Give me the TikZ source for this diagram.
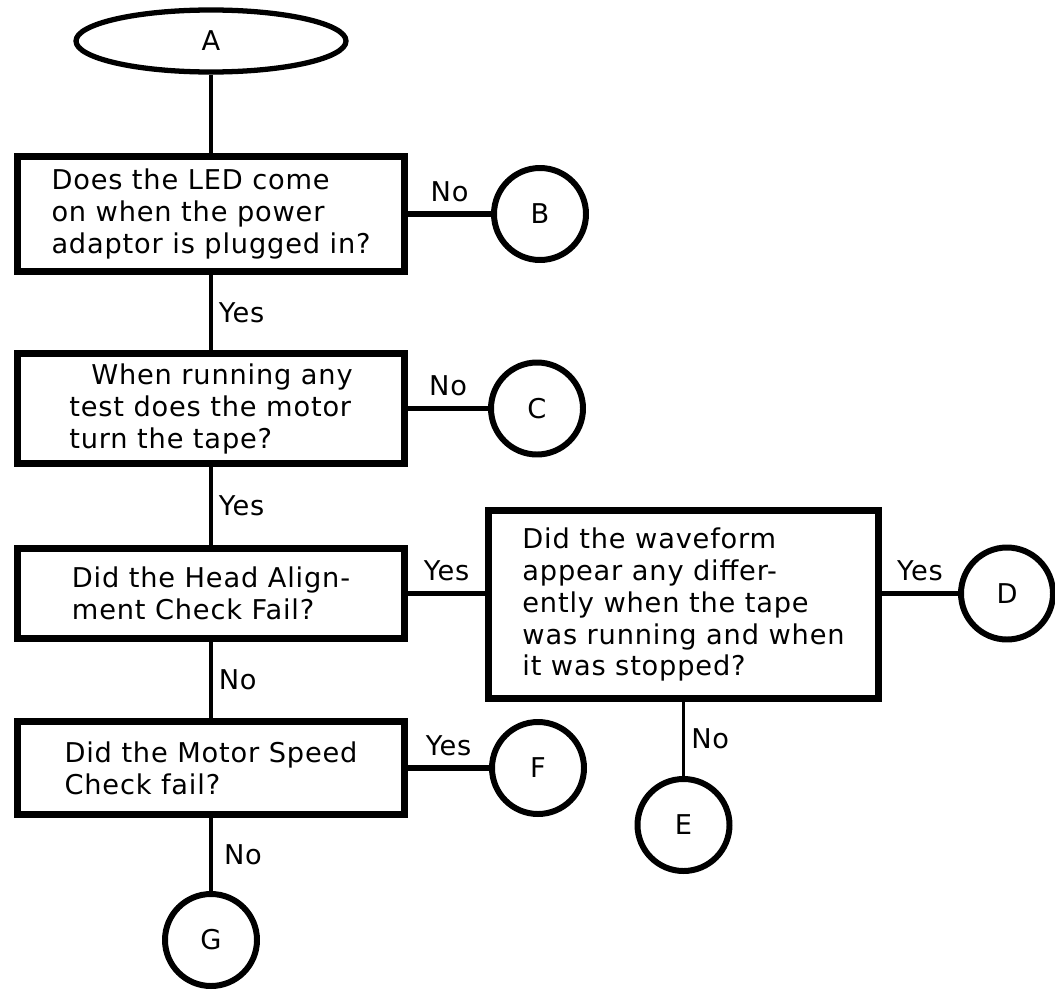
\documentclass[tikz,border=0pt]{standalone}
\usepackage{fontspec}
\setmainfont{DejaVu Sans}[LetterSpace=3]
\usetikzlibrary{shapes.geometric}

\begin{document}
\begin{tikzpicture}[
        every node/.style={font=\fontsize{15.5}{18.2}\selectfont},
        question/.style={draw, rectangle, line width=4pt, align=left, minimum width=7.75cm, inner sep=0pt},
        terminal/.style={draw, ellipse, line width=3pt, minimum width=5.4cm, minimum height=1.24cm},
        offpage/.style={draw, circle, line width=3.4pt, minimum size=1.84cm, inner sep=0pt},
        vlink/.style={line width=2.2pt},
        hlink/.style={line width=3.2pt}
    ]
        \useasboundingbox (0,0) rectangle (21.1,-19.8);

        % Start of the chart
        \node[terminal] (start) at (4.22,-0.82) {A};

        % Questions down the left column
        \node[question, minimum height=2.3cm] (led) at (4.22,-4.28) {Does the LED come\\on when the power\\adaptor is plugged in?};
        \node[question, minimum height=2.2cm] (motor) at (4.22,-8.17) {\hspace*{0.44cm}When running any\\test does the motor\\turn the tape?};
        \node[question, minimum height=1.8cm] (head) at (4.22,-11.87) {Did the Head Align-\\ment Check Fail?};
        \node[question, minimum height=1.86cm] (speed) at (4.22,-15.36) {Did the Motor Speed\\Check fail?};

        % Question on the right
        \node[question, minimum width=7.8cm, minimum height=3.76cm] (wave) at (13.67,-12.09) {Did the waveform\\appear any differ-\\ently when the tape\\was running and when\\it was stopped?};

        % Off-page connectors
        \node[offpage] (b) at (10.8,-4.28) {B};
        \node[offpage] (c) at (10.74,-8.17) {C};
        \node[offpage] (d) at (20.14,-11.87) {D};
        \node[offpage] (e) at (13.67,-16.5) {E};
        \node[offpage] (f) at (10.76,-15.36) {F};
        \node[offpage] (g) at (4.22,-18.8) {G};

        % Links
        \draw[vlink] (start) -- (led);
        \draw[vlink] (led) -- node[right] {Yes} (motor);
        \draw[vlink] (motor) -- node[right] {Yes} (head);
        \draw[vlink] (head) -- node[right] {No} (speed);
        \draw[vlink] (speed) -- node[right=3pt] {No} (g);
        \draw[vlink] (wave) -- node[right] {No} (e);

        \draw[hlink] (led) -- node[above=2pt] {No} (b);
        \draw[hlink] (motor) -- node[above=2pt] {No} (c);
        \draw[hlink] (head) -- node[above=2pt] {Yes} (head -| wave.west);
        \draw[hlink] (d -| wave.east) -- node[above=2pt] {Yes} (d);
        \draw[hlink] (speed) -- node[above=2pt] {Yes} (f);
    \end{tikzpicture}
\end{document}
